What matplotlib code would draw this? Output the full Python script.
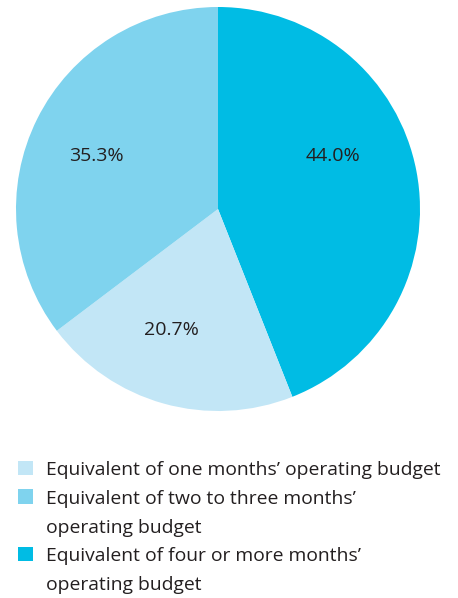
import matplotlib.pyplot as plt
from matplotlib.patches import Rectangle

plt.rcParams['font.family'] = ['Open Sans', 'DejaVu Sans']

categories = [
    "Equivalent of four or more months’\noperating budget",
    "Equivalent of one months’ operating budget",
    "Equivalent of two to three months’\noperating budget",
]
shares = [44.0, 20.7, 35.3]
colors = ["#00BCE4", "#C2E6F6", "#7FD3EE"]
label_pos = [(0.57, 0.26), (-0.23, -0.60), (-0.60, 0.26)]
legend_order = [1, 2, 0]

TEXT = "#231F20"
W, H = 458, 598
fig = plt.figure(figsize=(W / 100, H / 100), dpi=100)
cx, cy, r = 218, 209, 202
ax = fig.add_axes([(cx - r) / W, (H - cy - r) / H, 2 * r / W, 2 * r / H])

wedges, texts, autotexts = ax.pie(
    shares, colors=colors, startangle=90, counterclock=False,
    autopct=lambda p: f"{p:.1f}%", pctdistance=0.63, radius=1.0,
    wedgeprops=dict(linewidth=0),
    textprops=dict(color=TEXT, fontsize=14),
)
for t, pos in zip(autotexts, label_pos):
    t.set_position(pos)
ax.set_xlim(-1, 1)
ax.set_ylim(-1, 1)
ax.set_aspect('equal')
ax.axis('off')

# legend: swatch + wrapped label lines, in pixel coordinates
line_h = 28.8
baseline = 475.0
sq = 14.5
for i in legend_order:
    lines = categories[i].split("\n")
    fig.patches.append(Rectangle((18 / W, 1 - baseline / H),
                                 sq / W, sq / H, transform=fig.transFigure,
                                 facecolor=colors[i], edgecolor='none'))
    for ln in lines:
        fig.text(46 / W, 1 - baseline / H, ln, fontsize=13.9, color=TEXT,
                 va='baseline', ha='left')
        baseline += line_h

fig.savefig("out.png", dpi=100, facecolor="white")
